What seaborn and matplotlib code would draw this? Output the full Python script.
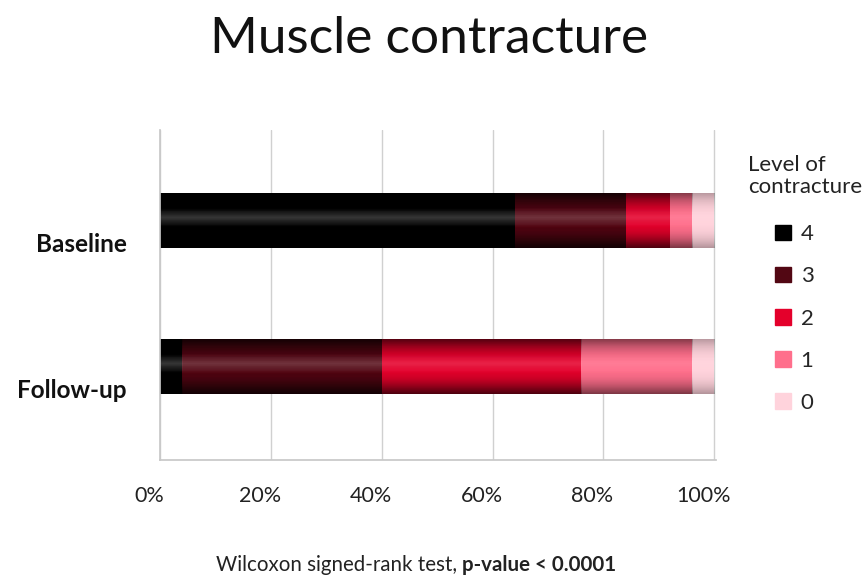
import matplotlib
matplotlib.use("Agg")
import matplotlib.pyplot as plt
import matplotlib.transforms as mtransforms
from matplotlib.patches import Patch
import seaborn as sns
import pandas as pd
import numpy as np

# Share of patients per level of contracture (%)
groups = ["Baseline", "Follow-up"]
levels = ["4", "3", "2", "1", "0"]
baseline = [64, 20, 8, 4, 4]
follow_up = [4, 36, 36, 20, 4]
level_colors = ["#000000", "#520713", "#e4002b", "#ff6f8c", "#ffd3dc"]
x_ticks = [0, 20, 40, 60, 80, 100]

sns.set_theme(style="white")
plt.rcParams["font.family"] = ["Lato", "DejaVu Sans"]

fig = plt.figure(figsize=(8.67, 5.79), dpi=100)
ax = fig.add_axes([0.1845, 0.2055, 0.6413, 0.57])

# Cumulative shares, drawn from the longest segment down so they stack
shares = pd.DataFrame({"group": groups * len(levels),
                       "level": np.repeat(levels, len(groups)),
                       "share": [v for pair in zip(baseline, follow_up) for v in pair]})
shares["cum"] = shares.groupby("group")["share"].cumsum()

for level, color in reversed(list(zip(levels, level_colors))):
    part = shares[shares["level"] == level]
    sns.barplot(data=part, x="cum", y="group", order=groups, color=color,
                orient="h", width=0.38, saturation=1, linewidth=0, ax=ax)

# Cylinder-like shading on each bar
grad = np.linspace(-1, 1, 64)
shade = np.zeros((64, 1, 4))
shade[..., 3] = (np.abs(grad) ** 2.5 * 0.3)[:, None]
highlight = np.ones((64, 1, 4))
highlight[..., 3] = (np.clip(1 - np.abs(grad + 0.1) * 2.5, 0, 1) * 0.05)[:, None]
for patch in list(ax.patches):
    x0, y0 = patch.get_x(), patch.get_y()
    w, h = patch.get_width(), patch.get_height()
    for img in (shade, highlight):
        im = ax.imshow(img, extent=(x0, x0 + w, y0 + h, y0), aspect="auto",
                       interpolation="bilinear", zorder=patch.get_zorder() + 0.1)
        im.set_clip_path(patch)

ax.set_xlim(0, 100.3)
ax.set_ylim(1.64, -0.62)
ax.set_xticks(x_ticks)
ax.set_xticklabels([f"{t}%" for t in x_ticks])
ax.set_xlabel("")
ax.set_ylabel("")
ax.grid(axis="x", color="#d0d0d0", linewidth=1)
ax.set_axisbelow(True)
for side in ["top", "right"]:
    ax.spines[side].set_visible(False)
for side in ["left", "bottom"]:
    ax.spines[side].set_color("#c8c8c8")
ax.tick_params(axis="x", length=0, pad=19, labelsize=15.5, colors="#222222")
ax.tick_params(axis="y", length=0, pad=24, labelsize=17.5, colors="#111111")
for lab in ax.get_yticklabels():
    lab.set_fontweight("bold")
    lab.set_transform(lab.get_transform()
                      + mtransforms.ScaledTranslation(0, -0.22, fig.dpi_scale_trans))
for lab in ax.get_xticklabels():
    lab.set_transform(lab.get_transform()
                      + mtransforms.ScaledTranslation(-0.11, 0, fig.dpi_scale_trans))

fig.text(0.495, 0.932, "Muscle contracture", ha="center", va="center",
         fontsize=37, color="#111111")

fig.text(748 / 867, 1 - 176 / 579, "Level of\ncontracture", ha="left", va="center",
         fontsize=16, color="#222222", linespacing=1.15)
handles = [Patch(facecolor=c, edgecolor=c) for c in level_colors]
fig.legend(handles, levels, loc="upper left", bbox_to_anchor=(764 / 867, 1 - 213 / 579),
           frameon=False, fontsize=16, handlelength=0.7, handleheight=0.7,
           handletextpad=0.45, labelspacing=1.0, borderpad=0)

fig.text(462 / 867, 1 - 565 / 579, "Wilcoxon signed-rank test, ", ha="right",
         va="center", fontsize=14.8, color="#222222")
fig.text(462 / 867, 1 - 565 / 579, "p-value < 0.0001", ha="left", va="center",
         fontsize=14.8, fontweight="bold", color="#222222")

fig.savefig("out.png", dpi=100)
